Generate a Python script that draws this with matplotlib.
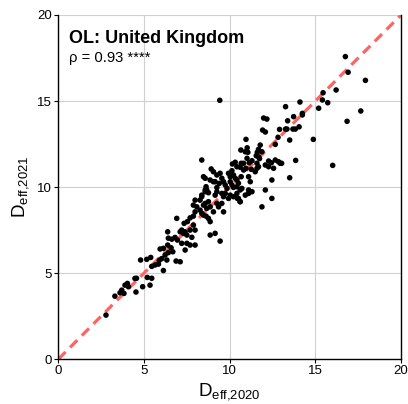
import matplotlib
matplotlib.use("Agg")
import matplotlib.pyplot as plt
import numpy as np

plt.rcParams['font.family'] = ['Liberation Sans', 'DejaVu Sans']
plt.rcParams['mathtext.fontset'] = 'custom'
plt.rcParams['mathtext.rm'] = 'Liberation Sans'

# effective diversity per region, 2020 vs 2021
d2020 = [
    2.78, 3.30, 3.60, 3.70, 3.83, 3.89, 4.03, 4.09, 4.47, 4.56, 4.53, 4.92, 5.19, 5.35, 5.45,
    4.80, 5.16, 5.39, 5.45, 5.64, 5.84, 5.89, 6.03, 6.13, 5.94, 6.13, 6.23, 6.33, 6.38, 6.42,
    6.58, 6.68, 6.87, 7.11, 6.38, 6.62, 6.42, 6.81, 6.95, 7.11, 7.20, 7.30, 7.40, 7.50, 6.91,
    7.20, 7.40, 7.50, 7.69, 7.98, 7.79, 7.69, 7.69, 7.88, 7.34, 7.53, 7.88, 8.08, 8.27, 8.37,
    7.98, 8.47, 8.66, 8.27, 8.37, 8.66, 8.62, 9.25, 9.15, 9.25, 8.62, 8.76, 8.86, 8.86, 9.15,
    7.88, 7.98, 9.44,
    8.37, 8.92, 9.05, 9.25, 9.44, 9.54, 10.13, 10.22, 10.32, 11.20, 8.47, 8.86, 9.05, 9.64, 9.74,
    9.84, 10.03, 10.13, 10.22, 10.51, 10.71, 8.57, 9.25, 9.54, 9.64, 10.03, 9.93, 10.42, 10.51, 10.61,
    10.91, 7.98, 8.37, 8.57, 8.76, 8.86, 9.35, 9.54, 9.64, 9.05, 8.47, 10.32, 10.42, 10.91, 11.01,
    10.71, 10.81, 9.93, 10.03, 10.42, 10.67, 11.10, 8.57, 9.15, 9.39, 10.42, 10.61, 11.10, 11.30, 8.57,
    8.76, 9.74, 10.22, 11.10, 10.61, 10.45,
    10.95, 10.65, 11.02, 11.06, 11.78, 11.68, 11.61, 11.88, 11.55, 11.68, 11.74, 10.16, 10.67, 10.81, 11.14,
    11.30, 11.59, 12.27, 12.43, 12.66, 12.85, 12.95, 10.61, 10.95, 11.26, 11.68, 12.08, 12.27, 12.56, 11.49,
    11.59, 12.46, 12.08, 12.46, 11.88, 12.66, 12.82, 12.91, 11.92, 12.08, 11.98, 12.17,
    9.42, 16.75, 16.91, 17.92, 16.21, 15.45, 15.41, 15.72, 14.10, 13.26, 15.19, 17.65, 14.24, 14.24, 13.73,
    13.38, 13.26, 13.34, 13.69, 13.83, 14.05, 16.85, 13.50, 14.88, 13.03, 13.85, 16.01, 13.50,
]
d2021 = [
    2.56, 3.66, 3.86, 4.01, 3.82, 4.30, 4.40, 4.21, 4.69, 4.70, 3.90, 4.21, 4.75, 4.30, 4.70,
    5.76, 5.80, 5.91, 5.39, 5.47, 5.52, 5.74, 5.84, 5.15, 6.40, 6.44, 6.05, 5.76, 6.63, 6.19,
    6.47, 6.24, 5.70, 5.66, 7.40, 6.97, 7.03, 7.07, 6.92, 7.40, 7.50, 7.31, 7.40, 7.21, 8.18,
    6.73, 6.34, 6.73, 6.63, 6.63, 7.08, 7.50, 8.21, 8.31, 7.89, 7.99, 8.95, 8.85, 8.66, 8.47,
    8.56, 8.95, 8.76, 9.24, 9.53, 9.83, 10.02, 9.97, 9.53, 9.05, 8.31, 8.18, 7.99, 7.21, 7.31,
    7.79, 7.50, 6.86,
    11.57, 11.05, 10.89, 10.70, 10.80, 10.51, 10.95, 10.70, 10.51, 10.31, 10.60, 10.41, 10.31, 10.31, 10.12,
    9.92, 10.31, 10.12, 9.98, 10.22, 9.92, 9.73, 9.73, 9.63, 9.44, 9.53, 9.34, 9.63, 9.34, 9.15,
    9.53, 9.24, 9.44, 9.05, 9.15, 8.85, 8.85, 9.05, 8.56, 8.56, 8.37, 11.44, 11.18, 12.05, 11.67,
    11.34, 10.99, 10.80, 10.60, 10.41, 10.60, 10.60, 10.51, 10.31, 10.21, 10.02, 9.83, 9.83, 9.73, 9.83,
    9.67, 9.63, 9.44, 9.63, 9.15, 9.34,
    12.77, 12.15, 12.28, 12.02, 12.44, 12.19, 12.02, 12.05, 11.82, 11.76, 11.65, 11.34, 11.38, 11.38, 11.41,
    11.53, 11.38, 11.51, 11.41, 11.57, 11.47, 11.38, 11.15, 11.09, 11.03, 11.18, 11.28, 11.18, 11.09, 10.89,
    11.09, 10.41, 9.83, 9.34, 8.85, 12.48, 12.89, 13.35, 13.31, 13.20, 14.01, 13.95,
    15.04, 17.58, 16.67, 16.20, 15.64, 15.48, 15.06, 14.90, 14.94, 14.67, 14.58, 14.42, 14.28, 14.19, 14.09,
    13.85, 13.37, 13.37, 13.37, 13.37, 13.50, 13.82, 12.73, 12.77, 11.38, 11.55, 11.26, 10.54,
]
region = "OL: United Kingdom"
rho = 0.93
stars = "****"

fig = plt.figure(figsize=(4.08, 4.04), dpi=100)
ax = fig.add_axes([0.143, 0.111, 0.84, 0.852])

ax.plot([0, 20], [0, 20], color='#ff6464', lw=2.3, dashes=(3.2, 2.0), zorder=1)
ax.scatter(d2020, d2021, s=16, color='black', edgecolors='none', zorder=3)

ax.set_xlim(0, 20)
ax.set_ylim(0, 20)
ax.set_xticks([0, 5, 10, 15, 20])
ax.set_yticks([0, 5, 10, 15, 20])
ax.grid(True, color='#d0d0d0', lw=0.8, zorder=0)
ax.set_axisbelow(True)
ax.spines['top'].set_visible(False)
for s in ['left', 'bottom', 'right']:
    ax.spines[s].set_linewidth(1.0)
ax.tick_params(direction='out', length=3, width=0.8, labelsize=9.5, pad=1.5)

ax.set_xlabel(r'D$_{\mathrm{eff{,}2020}}$', fontsize=13.5, labelpad=3)
ax.set_ylabel(r'D$_{\mathrm{eff{,}2021}}$', fontsize=13.5, labelpad=4)

ax.text(0.6, 18.35, region, fontsize=13, fontweight='bold', ha='left', va='baseline')
ax.text(0.6, 17.25, f"\u03c1 = {rho:.2f} {stars}", fontsize=10.6, ha='left', va='baseline')

fig.savefig('out.png', dpi=100)
